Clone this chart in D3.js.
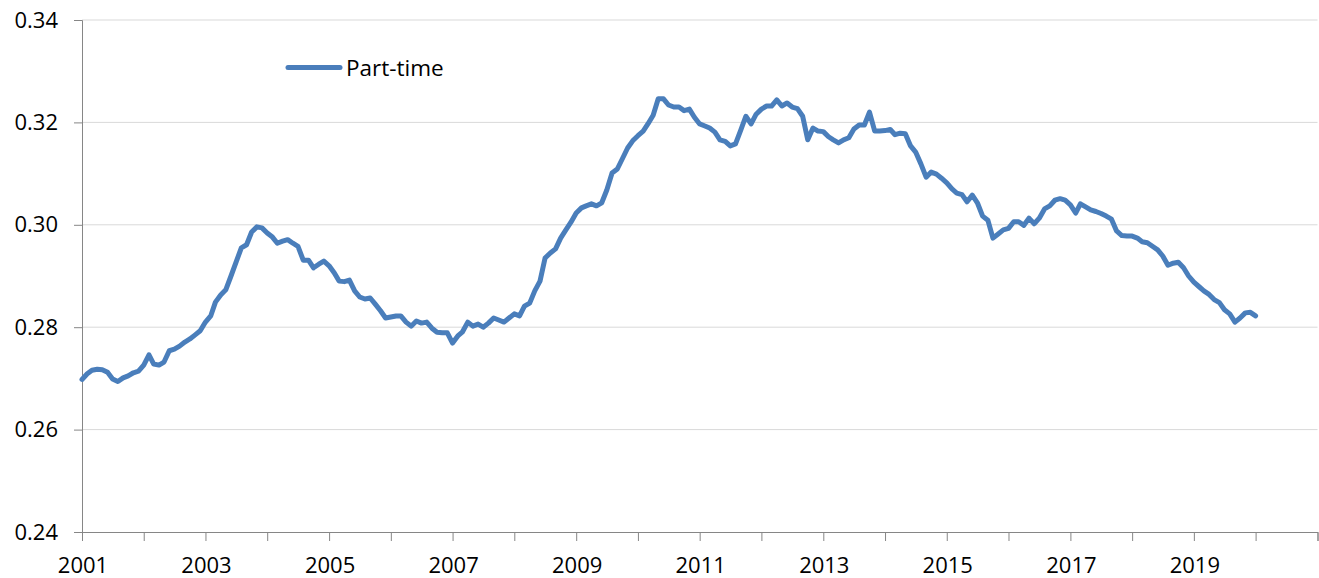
<!DOCTYPE html>
<html>
<head>
<meta charset="utf-8">
<script src="https://cdn.jsdelivr.net/npm/d3@7"></script>
<style>
  body { margin: 0; background: #fff; }
  text { font-family: "Open Sans", "Noto Sans", sans-serif; fill: #000; }
</style>
</head>
<body>
<script>
// monthly series, Jan 2001 .. Jan 2020
const startYear = 2001;
const seriesName = "Part-time";
const partTime = [
  0.2698, 0.2709, 0.2716, 0.2718, 0.2717, 0.2712, 0.2699, 0.2694, 0.2701, 0.2705, 0.2711, 0.2714,
  0.2726, 0.2746, 0.2728, 0.2726, 0.2732, 0.2754, 0.2757, 0.2763, 0.2771, 0.2777, 0.2785, 0.2793,
  0.2810, 0.2822, 0.2849, 0.2863, 0.2873, 0.2900, 0.2927, 0.2955, 0.2961, 0.2986, 0.2996, 0.2994,
  0.2984, 0.2976, 0.2964, 0.2968, 0.2971, 0.2964, 0.2958, 0.2931, 0.2931, 0.2916, 0.2923, 0.2929,
  0.2920, 0.2906, 0.2890, 0.2889, 0.2892, 0.2871, 0.2859, 0.2855, 0.2857, 0.2845, 0.2832, 0.2818,
  0.2820, 0.2822, 0.2822, 0.2810, 0.2802, 0.2812, 0.2808, 0.2810, 0.2798, 0.2790, 0.2789, 0.2789,
  0.2769, 0.2783, 0.2791, 0.2810, 0.2802, 0.2806, 0.2800, 0.2808, 0.2818, 0.2814, 0.2810, 0.2818,
  0.2826, 0.2822, 0.2841, 0.2847, 0.2871, 0.2890, 0.2935, 0.2945, 0.2953, 0.2974, 0.2990, 0.3005,
  0.3023, 0.3033, 0.3037, 0.3041, 0.3037, 0.3043, 0.3068, 0.3101, 0.3109, 0.3129, 0.3150, 0.3164,
  0.3174, 0.3183, 0.3197, 0.3214, 0.3246, 0.3246, 0.3234, 0.3230, 0.3230, 0.3223, 0.3226, 0.3210,
  0.3197, 0.3193, 0.3189, 0.3181, 0.3166, 0.3163, 0.3154, 0.3158, 0.3185, 0.3212, 0.3197, 0.3216,
  0.3226, 0.3232, 0.3232, 0.3244, 0.3232, 0.3238, 0.3230, 0.3227, 0.3212, 0.3166, 0.3189, 0.3183,
  0.3182, 0.3172, 0.3166, 0.3160, 0.3166, 0.3170, 0.3187, 0.3195, 0.3195, 0.3220, 0.3183, 0.3183,
  0.3184, 0.3186, 0.3176, 0.3179, 0.3178, 0.3154, 0.3142, 0.3119, 0.3093, 0.3103, 0.3099, 0.3091,
  0.3082, 0.3070, 0.3062, 0.3059, 0.3045, 0.3058, 0.3043, 0.3017, 0.3009, 0.2974, 0.2982, 0.2990,
  0.2993, 0.3006, 0.3006, 0.2999, 0.3013, 0.3002, 0.3013, 0.3031, 0.3037, 0.3048, 0.3051, 0.3048,
  0.3039, 0.3023, 0.3041, 0.3035, 0.3029, 0.3026, 0.3022, 0.3017, 0.3011, 0.2988, 0.2979, 0.2978,
  0.2978, 0.2974, 0.2967, 0.2965, 0.2958, 0.2951, 0.2939, 0.2921, 0.2925, 0.2927, 0.2916, 0.2900,
  0.2888, 0.2879, 0.2871, 0.2864, 0.2854, 0.2848, 0.2834, 0.2826, 0.2810, 0.2818, 0.2828, 0.2829,
  0.2822
];
const yTicks = [0.24, 0.26, 0.28, 0.30, 0.32, 0.34];
const xLabelYears = [2001, 2003, 2005, 2007, 2009, 2011, 2013, 2015, 2017, 2019];

const width = 1319, height = 578;
const plotLeft = 82, plotRight = 1317.5, plotTop = 20, plotBottom = 532;

const svg = d3.select("body").append("svg")
    .attr("width", width)
    .attr("height", height);

const data = partTime.map((v, i) => ({ date: new Date(startYear, i, 1), v: v }));

const x = d3.scaleTime()
    .domain([new Date(2001, 0, 1), new Date(2021, 0, 1)])
    .range([plotLeft, plotRight]);
const y = d3.scaleLinear()
    .domain([0.24, 0.34])
    .range([plotBottom, plotTop]);

// gridlines
svg.append("g")
    .selectAll("line")
    .data(yTicks.slice(1))
    .enter()
    .append("line")
    .attr("x1", plotLeft)
    .attr("x2", plotRight)
    .attr("y1", d => y(d))
    .attr("y2", d => y(d))
    .attr("stroke", "#d9d9d9")
    .attr("stroke-width", 1);

// y axis
const yAxis = svg.append("g")
    .attr("transform", `translate(${plotLeft},0)`)
    .call(d3.axisLeft(y).tickValues(yTicks).tickFormat(d3.format(".2f")).tickSize(8).tickPadding(16));
yAxis.select(".domain").attr("stroke", "#868686");
yAxis.selectAll(".tick line").attr("stroke", "#868686");
yAxis.selectAll("text").style("font-size", "22px").attr("fill", "#000");

// x axis
const xAxis = svg.append("g")
    .attr("transform", `translate(0,${plotBottom})`)
    .call(d3.axisBottom(x).ticks(d3.timeYear.every(1)).tickSize(9).tickFormat(d => ""));
xAxis.select(".domain").attr("stroke", "#868686");
xAxis.selectAll(".tick line").attr("stroke", "#868686");

svg.append("g")
    .selectAll("text")
    .data(xLabelYears)
    .enter()
    .append("text")
    .attr("x", d => x(new Date(d, 0, 1)) + 1)
    .attr("y", 573)
    .attr("text-anchor", "middle")
    .style("font-size", "22px")
    .text(d => d);

// series line
const line = d3.line()
    .x(d => x(d.date))
    .y(d => y(d.v));

svg.append("path")
    .datum(data)
    .attr("d", line)
    .attr("fill", "none")
    .attr("stroke", "#4a7ebb")
    .attr("stroke-width", 5)
    .attr("stroke-linejoin", "round")
    .attr("stroke-linecap", "round");

// legend
svg.append("line")
    .attr("x1", 288)
    .attr("x2", 340)
    .attr("y1", 67.5)
    .attr("y2", 67.5)
    .attr("stroke", "#4a7ebb")
    .attr("stroke-width", 5)
    .attr("stroke-linecap", "round");
svg.append("text")
    .attr("x", 346)
    .attr("y", 75.5)
    .style("font-size", "22.5px")
    .text(seriesName);
</script>
</body>
</html>
